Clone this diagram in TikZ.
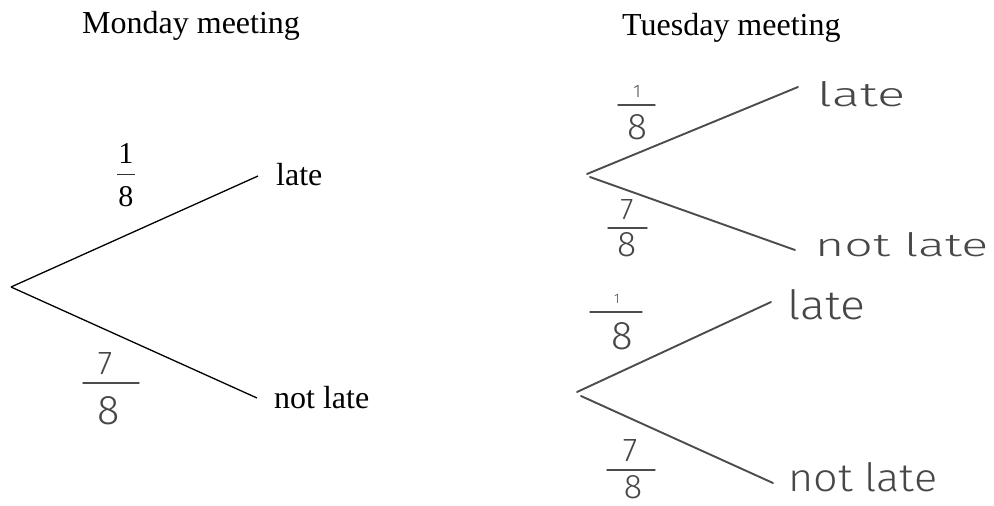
\documentclass[tikz,border=0pt]{standalone}
\usepackage{fontspec}
\usepackage{graphicx}
\setmainfont{Liberation Serif}
\newfontfamily\hand{Fira Sans Light}
\tikzset{
  print/.style={font=\fontsize{32}{38}\selectfont, inner sep=0pt, text=black},
  hw/.style={font=\hand\fontsize{30}{36}\selectfont, text=black!72, inner sep=0pt},
  pline/.style={line width=1.3pt, draw=black},
  hline/.style={line width=1.9pt, draw=black!70, line cap=round},
  pbar/.style={line width=0.8pt, draw=black!80},
  hbar/.style={line width=1.4pt, draw=black!70, line cap=round},
}
\begin{document}
\begin{tikzpicture}[x=1pt,y=-1pt]
\useasboundingbox (0,0) rectangle (994,506);
% titles
\node[print, anchor=base west] (mon) at (82,33) {Monday meeting};
\node[print, anchor=base west] (tue) at (622,35) {Tuesday meeting};
% Monday tree
\coordinate (m0) at (11,287);
\coordinate (m1) at (258,176);
\coordinate (m2) at (257,398);
\draw[pline] (m0) -- (m1);
\draw[pline] (m0) -- (m2);
\node[print, anchor=base west] (mlate) at (276,185) {late};
\node[print, anchor=base west] (mnot) at (274,408) {not late};
\node[print] (mn1) at (126,153) {\resizebox{!}{20pt}{1}};
\node[print] (md1) at (126,196.5) {\resizebox{!}{20pt}{8}};
\draw[pbar] (117,174) -- (135,174);
\node[hw] (mn2) at (105,364) {\resizebox{!}{22pt}{7}};
\node[hw] (md2) at (109,411) {\resizebox{!}{28pt}{8}};
\draw[hbar] (83,383) -- (139,383);
% Tuesday upper tree
\coordinate (a0) at (587,174);
\coordinate (a0b) at (590,177);
\coordinate (a1) at (798,87);
\coordinate (a2) at (795,250);
\draw[hline] (a0) -- (a1);
\draw[hline] (a0b) -- (a2);
\node[hw, anchor=south west] (alate) at (817,107) {\resizebox{88pt}{25pt}{late}};
\node[hw, anchor=south west] (anot) at (815,257) {\resizebox{173pt}{24pt}{not late}};
\node[hw] (an1) at (637,91) {\resizebox{!}{12pt}{1}};
\node[hw] (ad1) at (637,127) {\resizebox{!}{25pt}{8}};
\draw[hbar] (618,105) -- (655,105);
\node[hw] (an2) at (627,210) {\resizebox{!}{20pt}{7}};
\node[hw] (ad2) at (627,245) {\resizebox{!}{24pt}{8}};
\draw[hbar] (608,228) -- (647,228);
% Tuesday lower tree
\coordinate (b0) at (577,392);
\coordinate (b0b) at (581,396);
\coordinate (b1) at (771,302);
\coordinate (b2) at (773,483);
\draw[hline] (b0) -- (b1);
\draw[hline] (b0b) -- (b2);
\node[hw, anchor=south west] (blate) at (787,320) {\resizebox{78pt}{30pt}{late}};
\node[hw, anchor=south west] (bnot) at (788,492) {\resizebox{149pt}{29pt}{not late}};
\node[hw] (bn1) at (617,299) {\resizebox{!}{9pt}{1}};
\node[hw] (bd1) at (622,336) {\resizebox{!}{27pt}{8}};
\draw[hbar] (590,312) -- (642,312);
\node[hw] (bn2) at (630,451) {\resizebox{!}{22pt}{7}};
\node[hw] (bd2) at (633,487) {\resizebox{!}{23pt}{8}};
\draw[hbar] (607,470) -- (655,470);
\end{tikzpicture}
\end{document}
